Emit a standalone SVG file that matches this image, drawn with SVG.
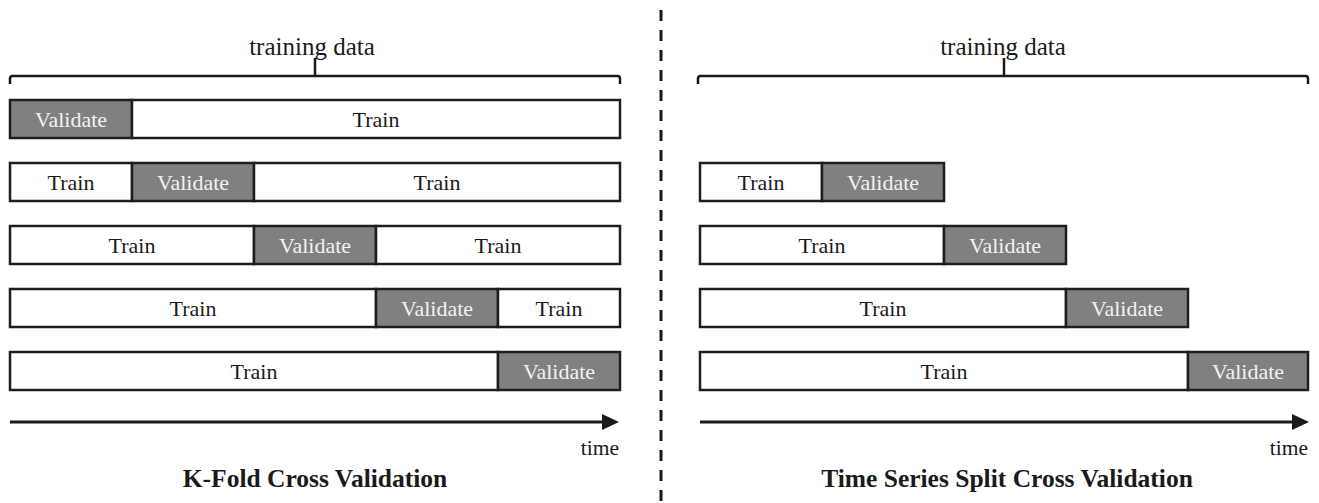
<svg xmlns="http://www.w3.org/2000/svg" width="1319" height="503" viewBox="0 0 1319 503">
<defs>
<style>
.tr{fill:#ffffff;stroke:#1e1e1e;stroke-width:2.5}
.va{fill:#808080;stroke:#1e1e1e;stroke-width:2.5}
.tt{font-family:"Liberation Serif",serif;font-size:22px;fill:#1a1a1a;text-anchor:middle}
.vt{font-family:"Liberation Serif",serif;font-size:22px;fill:#f2f2f2;text-anchor:middle}
.lbl{font-family:"Liberation Serif",serif;font-size:25px;fill:#1a1a1a;text-anchor:middle}
.time{font-family:"Liberation Serif",serif;font-size:21.5px;fill:#1a1a1a;text-anchor:end}
.title{font-family:"Liberation Serif",serif;font-size:25.5px;font-weight:bold;fill:#1a1a1a;text-anchor:middle}
.brace{fill:none;stroke:#1a1a1a;stroke-width:2.5}
.axis{fill:none;stroke:#1a1a1a;stroke-width:3}
</style>
<marker id="ah" markerWidth="20" markerHeight="18" refX="0" refY="0" viewBox="-1 -9 20 18" markerUnits="userSpaceOnUse" overflow="visible" orient="auto">
<path d="M0,-8 L17,0 L0,8 Z" fill="#1a1a1a"/>
</marker>
</defs>

<g id="divider">
<line x1="661" y1="10" x2="661" y2="503" stroke="#1a1a1a" stroke-width="3" stroke-dasharray="11 9"/>
</g>

<!-- Left panel -->
<g id="kfold-brace">
<path class="brace" d="M10,84 L10,78.5 Q10,76 12.5,76 L617.5,76 Q620,76 620,78.5 L620,84"/>
<path class="brace" d="M315,76 L315,58"/>
<text class="lbl" x="312" y="55">training data</text>
</g>

<g id="kfold-row1">
<rect class="va" x="10" y="100" width="122" height="38"/>
<rect class="tr" x="132" y="100" width="488" height="38"/>
<text class="vt" x="71" y="127">Validate</text>
<text class="tt" x="376" y="127">Train</text>
</g>
<g id="kfold-row2">
<rect class="tr" x="10" y="163" width="122" height="38"/>
<rect class="va" x="132" y="163" width="122" height="38"/>
<rect class="tr" x="254" y="163" width="366" height="38"/>
<text class="tt" x="71" y="190">Train</text>
<text class="vt" x="193" y="190">Validate</text>
<text class="tt" x="437" y="190">Train</text>
</g>
<g id="kfold-row3">
<rect class="tr" x="10" y="226" width="244" height="38"/>
<rect class="va" x="254" y="226" width="122" height="38"/>
<rect class="tr" x="376" y="226" width="244" height="38"/>
<text class="tt" x="132" y="253">Train</text>
<text class="vt" x="315" y="253">Validate</text>
<text class="tt" x="498" y="253">Train</text>
</g>
<g id="kfold-row4">
<rect class="tr" x="10" y="289" width="366" height="38"/>
<rect class="va" x="376" y="289" width="122" height="38"/>
<rect class="tr" x="498" y="289" width="122" height="38"/>
<text class="tt" x="193" y="316">Train</text>
<text class="vt" x="437" y="316">Validate</text>
<text class="tt" x="559" y="316">Train</text>
</g>
<g id="kfold-row5">
<rect class="tr" x="10" y="352" width="488" height="38"/>
<rect class="va" x="498" y="352" width="122" height="38"/>
<text class="tt" x="254" y="379">Train</text>
<text class="vt" x="559" y="379">Validate</text>
</g>

<g id="connectors">
<line class="axis" x1="10" y1="422" x2="602" y2="422" marker-end="url(#ah)"/>
<line class="axis" x1="700" y1="422" x2="1292" y2="422" marker-end="url(#ah)"/>
</g>

<g id="kfold-time">
<text class="time" x="619" y="455">time</text>
</g>
<g id="kfold-title">
<text class="title" x="315" y="487">K-Fold Cross Validation</text>
</g>

<!-- Right panel -->
<g id="ts-brace">
<path class="brace" d="M698,84 L698,78.5 Q698,76 700.5,76 L1305.5,76 Q1308,76 1308,78.5 L1308,84"/>
<path class="brace" d="M1004,76 L1004,58"/>
<text class="lbl" x="1003" y="55">training data</text>
</g>

<g id="ts-row1">
<rect class="tr" x="700" y="163" width="122" height="38"/>
<rect class="va" x="822" y="163" width="122" height="38"/>
<text class="tt" x="761" y="190">Train</text>
<text class="vt" x="883" y="190">Validate</text>
</g>
<g id="ts-row2">
<rect class="tr" x="700" y="226" width="244" height="38"/>
<rect class="va" x="944" y="226" width="122" height="38"/>
<text class="tt" x="822" y="253">Train</text>
<text class="vt" x="1005" y="253">Validate</text>
</g>
<g id="ts-row3">
<rect class="tr" x="700" y="289" width="366" height="38"/>
<rect class="va" x="1066" y="289" width="122" height="38"/>
<text class="tt" x="883" y="316">Train</text>
<text class="vt" x="1127" y="316">Validate</text>
</g>
<g id="ts-row4">
<rect class="tr" x="700" y="352" width="488" height="38"/>
<rect class="va" x="1188" y="352" width="120" height="38"/>
<text class="tt" x="944" y="379">Train</text>
<text class="vt" x="1248" y="379">Validate</text>
</g>

<g id="ts-time">
<text class="time" x="1308" y="455">time</text>
</g>
<g id="ts-title">
<text class="title" x="1007" y="487">Time Series Split Cross Validation</text>
</g>
</svg>
